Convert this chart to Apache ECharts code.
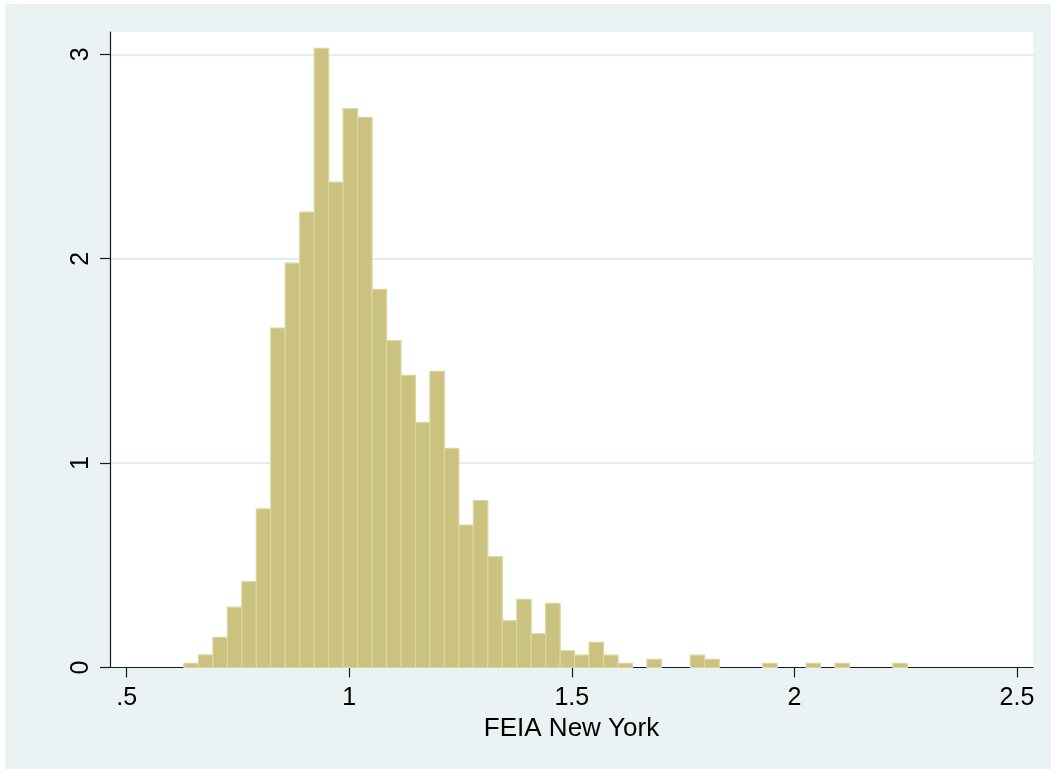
<!DOCTYPE html>
<html>
<head>
<meta charset="utf-8">
<title>FEIA New York</title>
<script src="https://cdn.jsdelivr.net/npm/echarts@6/dist/echarts.min.js"></script>
<style>
  html, body { margin: 0; padding: 0; background: #ffffff; }
  #chart { width: 1051px; height: 769px; }
</style>
</head>
<body>
<div id="chart"></div>
<script>
// Histogram of FEIA New York (density scale), 50 equal-width bins
const binStart = 0.6287;
const binWidth = 0.0325;
const densities = [
  0.020, 0.062, 0.148, 0.295, 0.420, 0.776, 1.661, 1.978, 2.228, 3.029,
  2.375, 2.734, 2.692, 1.850, 1.599, 1.429, 1.198, 1.449, 1.072, 0.697,
  0.817, 0.542, 0.229, 0.334, 0.165, 0.314, 0.082, 0.061, 0.123, 0.061,
  0.020, 0,     0.040, 0,     0,     0.061, 0.040, 0,     0,     0,
  0.020, 0,     0,     0.020, 0,     0.020, 0,     0,     0,     0.020
];
const xTicks = [0.5, 1, 1.5, 2, 2.5];
const xTickLabels = ['.5', '1', '1.5', '2', '2.5'];
const yTicks = [0, 1, 2, 3];
const xTitle = 'FEIA New York';

const bins = densities.map((d, i) => [binStart + i * binWidth, binStart + (i + 1) * binWidth, d]);

const font = 'Liberation Sans, Arial, sans-serif';
const chart = echarts.init(document.getElementById('chart'), null, { renderer: 'canvas' });

chart.setOption({
  animation: false,
  backgroundColor: '#ffffff',
  graphic: [{
    type: 'rect',
    z: -100,
    silent: true,
    shape: { x: 5, y: 4, width: 1046, height: 765 },
    style: { fill: '#EAF2F3' }
  }],
  grid: {
    left: 110, right: 18, top: 32, bottom: 101.5,
    show: true, backgroundColor: '#ffffff', borderWidth: 0
  },
  xAxis: {
    type: 'value',
    min: 0.4625, max: 2.536,
    name: xTitle,
    nameLocation: 'middle',
    nameGap: 44,
    nameTextStyle: { fontFamily: font, fontSize: 26, color: '#000' },
    axisLine: { show: true, onZero: false, lineStyle: { color: '#1a1a1a', width: 1.2 } },
    axisTick: { show: true, length: 10, customValues: xTicks, lineStyle: { color: '#1a1a1a', width: 1.2 } },
    axisLabel: {
      customValues: xTicks,
      margin: 18,
      fontFamily: font, fontSize: 25, color: '#000',
      formatter: v => xTickLabels[xTicks.indexOf(v)] ?? String(v)
    },
    splitLine: { show: false }
  },
  yAxis: {
    type: 'value',
    min: 0, max: 3.109,
    axisLine: { show: true, lineStyle: { color: '#1a1a1a', width: 1.2 } },
    axisTick: { show: true, length: 10, customValues: yTicks, lineStyle: { color: '#1a1a1a', width: 1.2 } },
    axisLabel: {
      customValues: yTicks,
      rotate: 90,
      margin: 16,
      fontFamily: font, fontSize: 25, color: '#000'
    },
    splitLine: { show: true, showMinLine: false, lineStyle: { color: '#E3ECEE', width: 2 } }
  },
  series: [{
    type: 'custom',
    data: bins,
    encode: { x: [0, 1], y: 2 },
    renderItem: function (params, api) {
      const h = api.value(2);
      if (!h) return null;
      const p0 = api.coord([api.value(0), h]);
      const p1 = api.coord([api.value(1), 0]);
      return {
        type: 'rect',
        shape: { x: p0[0], y: p0[1], width: p1[0] - p0[0], height: p1[1] - p0[1] },
        style: { fill: '#CAC27E', stroke: '#DBD6A0', lineWidth: 1.2 }
      };
    }
  }]
});
</script>
</body>
</html>
